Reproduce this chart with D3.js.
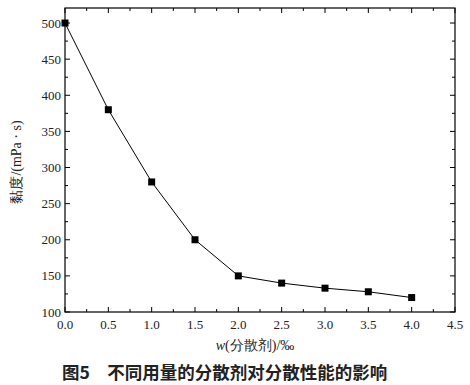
<html>
<head>
<meta charset="utf-8">
<style>
  body { margin: 0; background: #fff; }
  text { font-family: "Liberation Serif", "Times New Roman", serif; }
</style>
</head>
<body>
<svg id="chart" width="470" height="385"></svg>
<script src="https://d3js.org/d3.v7.min.js"></script>
<script>
    // data
    let dosage = [0.0, 0.5, 1.0, 1.5, 2.0, 2.5, 3.0, 3.5, 4.0]
    let viscosity = [500, 380, 280, 200, 150, 140, 133, 128, 120]
    let xTicks = [0.0, 0.5, 1.0, 1.5, 2.0, 2.5, 3.0, 3.5, 4.0, 4.5]
    let yTicks = [100, 150, 200, 250, 300, 350, 400, 450, 500]

    let svg = d3.select("#chart")
    let pLeft = 65, pRight = 455, pTop = 8, pBottom = 312

    let x = d3.scaleLinear().domain([0, 4.5]).range([pLeft, pRight])
    let y = d3.scaleLinear().domain([100, 520.8]).range([pBottom, pTop])

    let xMinor = d3.range(0, 4.51, 0.25)
    let yMinor = d3.range(100, 521, 25)

    // frame
    svg.append("rect")
        .attr("x", pLeft).attr("y", pTop)
        .attr("width", pRight - pLeft).attr("height", pBottom - pTop)
        .attr("fill", "none").attr("stroke", "#000").attr("stroke-width", 1.2)

    let ticks = svg.append("g").attr("stroke", "#000").attr("stroke-width", 1)
    xMinor.forEach((v, i) => {
        let len = i % 2 == 0 ? 5 : 3
        ticks.append("line").attr("x1", x(v)).attr("x2", x(v)).attr("y1", pBottom).attr("y2", pBottom - len)
        ticks.append("line").attr("x1", x(v)).attr("x2", x(v)).attr("y1", pTop).attr("y2", pTop + len)
    })
    yMinor.forEach((v, i) => {
        let len = i % 2 == 0 ? 5 : 3
        ticks.append("line").attr("y1", y(v)).attr("y2", y(v)).attr("x1", pLeft).attr("x2", pLeft + len)
        ticks.append("line").attr("y1", y(v)).attr("y2", y(v)).attr("x1", pRight).attr("x2", pRight - len)
    })

    svg.selectAll(".xl").data(xTicks).enter().append("text")
        .attr("x", d => x(d)).attr("y", pBottom + 17)
        .attr("text-anchor", "middle").attr("font-size", 13).attr("fill", "#222")
        .text(d => d.toFixed(1))

    svg.selectAll(".yl").data(yTicks).enter().append("text")
        .attr("x", pLeft - 4).attr("y", d => y(d) + 4.5)
        .attr("text-anchor", "end").attr("font-size", 13).attr("fill", "#222")
        .text(d => d)

    // line + markers
    let pts = dosage.map((d, i) => [d, viscosity[i]])
    svg.append("path")
        .attr("d", d3.line().x(d => x(d[0])).y(d => y(d[1]))(pts))
        .attr("fill", "none").attr("stroke", "#000").attr("stroke-width", 1)

    svg.selectAll(".pt").data(pts).enter().append("rect")
        .attr("x", d => x(d[0]) - 3.5).attr("y", d => y(d[1]) - 3.5)
        .attr("width", 7).attr("height", 7).attr("fill", "#000")

    // axis titles
    let xt = svg.append("text").attr("x", 255).attr("y", 350)
        .attr("text-anchor", "middle").attr("font-size", 14).attr("fill", "#222")
    xt.append("tspan").attr("font-style", "italic").text("w")
    xt.append("tspan").text("(分散剂)/‰")

    svg.append("text")
        .attr("transform", "translate(21,162) rotate(-90)")
        .attr("text-anchor", "middle").attr("font-size", 14).attr("fill", "#222")
        .text("黏度/(mPa · s)")

    svg.append("text").attr("x", 62).attr("y", 379)
        .attr("font-size", 17.5).attr("font-weight", "bold").attr("fill", "#222")
        .style("font-family", "'Noto Sans CJK SC', sans-serif")
        .text("图5　不同用量的分散剂对分散性能的影响")
</script>
</body>
</html>
